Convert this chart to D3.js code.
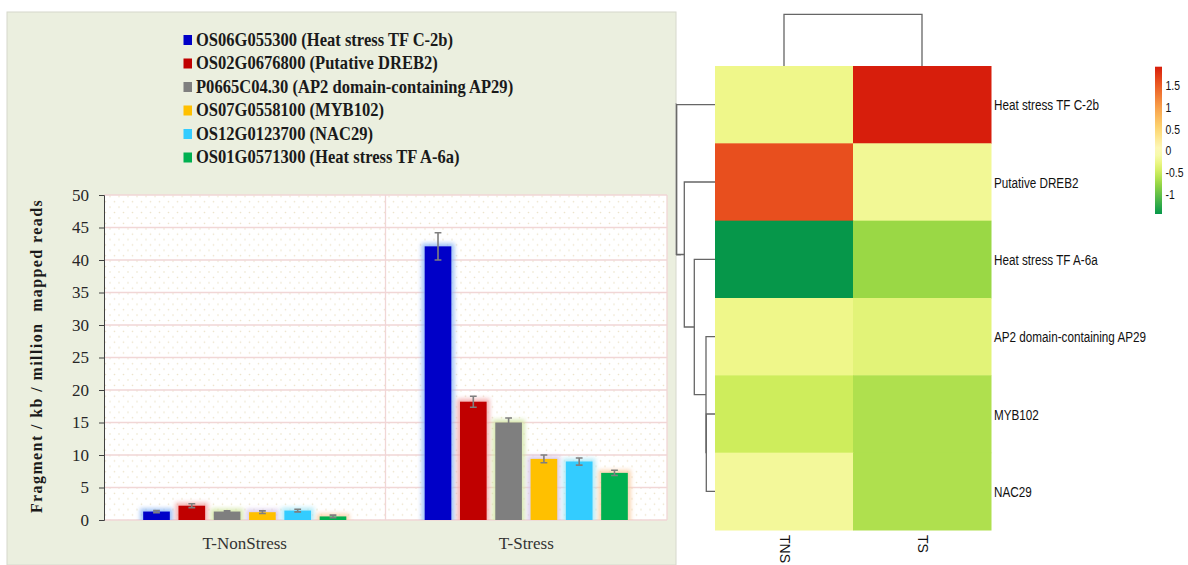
<!DOCTYPE html>
<html>
<head>
<meta charset="utf-8">
<script src="https://cdn.jsdelivr.net/npm/d3@7"></script>
<style>
body { margin: 0; background: #fff; }
</style>
</head>
<body>
<div id="chart"></div>
<script>
// bar chart data
var groups = ["T-NonStress", "T-Stress"];
var seriesNames = ["OS06G055300 (Heat stress TF C-2b)", "OS02G0676800 (Putative DREB2)",
	"P0665C04.30 (AP2 domain-containing AP29)", "OS07G0558100 (MYB102)",
	"OS12G0123700 (NAC29)", "OS01G0571300 (Heat stress TF A-6a)"];
var nonStressVals = [1.3, 2.2, 1.3, 1.2, 1.45, 0.55];
var nonStressErr = [0.17, 0.3, 0.1, 0.2, 0.2, 0.2];
var stressVals = [42.1, 18.2, 15.0, 9.4, 9.0, 7.25];
var stressErr = [2.1, 0.85, 0.7, 0.6, 0.55, 0.4];
var yTicks = [0, 5, 10, 15, 20, 25, 30, 35, 40, 45, 50];

// heatmap data
var genes = ["Heat stress TF C-2b", "Putative DREB2", "Heat stress TF A-6a",
	"AP2 domain-containing AP29", "MYB102", "NAC29"];
var conditions = ["TNS", "TS"];
var heatTNS = [-0.25, 1.6, -1.46, -0.25, -0.5, -0.18];
var heatTS = [1.94, -0.2, -0.75, -0.35, -0.65, -0.65];
var legendTicks = [1.5, 1, 0.5, 0, -0.5, -1];
// row clustering, hclust style: negative = leaf index (1-based), positive = merge step
var rowMerges = [[-5, -6, 0.87], [-4, 1, 0.9], [-3, 2, 2.07], [-2, 3, 3.07], [-1, 4, 3.83]];
var colMergeHeight = 1;

var barColors = ["#0000c8", "#c00000", "#7f7f7f", "#ffc000", "#33ccff", "#00b050"];
var glowColors = ["#8fb8f5", "#f3a9a9", "#d3e6a6", "#d6c6ea", "#a9e8f7", "#f9cfa5"];

var W = 1188, H = 565;
var svg = d3.select("#chart").append("svg").attr("width", W).attr("height", H);
var defs = svg.append("defs");

var pat = defs.append("pattern").attr("id", "dots").attr("patternUnits", "userSpaceOnUse")
	.attr("width", 9).attr("height", 10.8);
pat.append("rect").attr("width", 9).attr("height", 10.8).attr("fill", "#fff");
pat.append("circle").attr("cx", 2).attr("cy", 2).attr("r", 0.8).attr("fill", "#ece2c8");
pat.append("circle").attr("cx", 6.5).attr("cy", 7.4).attr("r", 0.8).attr("fill", "#ece2c8");

defs.append("filter").attr("id", "glow").attr("x", "-50%").attr("y", "-50%")
	.attr("width", "200%").attr("height", "200%")
	.append("feGaussianBlur").attr("stdDeviation", 2.2);

defs.append("clipPath").attr("id", "plotclip").append("rect")
	.attr("x", 104).attr("y", 180).attr("width", 563).attr("height", 340);

// ---------- left panel ----------
svg.append("rect").attr("x", 7).attr("y", 12).attr("width", 669).attr("height", H - 12)
	.attr("fill", "#ebefdf").attr("stroke", "#d6d8cc").attr("stroke-width", 1);
svg.append("path").attr("d", "M676,103V255H681").attr("fill", "none")
	.attr("stroke", "#9a9a9a").attr("stroke-width", 1);

var x0 = d3.scaleBand().domain(groups).range([104, 667]);
var x1 = d3.scaleBand().domain(d3.range(seriesNames.length)).range([0, x0.bandwidth()])
	.paddingInner(0.245).paddingOuter(1.11);
var y = d3.scaleLinear().domain([0, 50]).range([520, 195]);

svg.append("rect").attr("x", 104).attr("y", 195).attr("width", 563).attr("height", 325)
	.attr("fill", "url(#dots)");

svg.append("g").selectAll("line").data(yTicks).enter().append("line")
	.attr("x1", 104).attr("x2", 667)
	.attr("y1", d => y(d)).attr("y2", d => y(d))
	.attr("stroke", "#f1d6d6").attr("stroke-width", 1.3);
svg.append("g").selectAll("line").data(groups).enter().append("line")
	.attr("x1", d => x0(d) + x0.bandwidth()).attr("x2", d => x0(d) + x0.bandwidth())
	.attr("y1", y(50)).attr("y2", y(0))
	.attr("stroke", "#f1d6d6").attr("stroke-width", 1.3);

var barData = [];
groups.forEach(function(g, gi) {
	var vals = gi == 0 ? nonStressVals : stressVals;
	var errs = gi == 0 ? nonStressErr : stressErr;
	vals.forEach(function(v, i) {
		barData.push({group: g, i: i, v: v, e: errs[i]});
	});
});

var bars = svg.append("g").attr("clip-path", "url(#plotclip)");
bars.selectAll(".glow").data(barData).enter().append("rect")
	.attr("x", d => x0(d.group) + x1(d.i) - 3)
	.attr("y", d => y(d.v) - 3)
	.attr("width", x1.bandwidth() + 6)
	.attr("height", d => y(0) - y(d.v) + 6)
	.attr("fill", d => glowColors[d.i])
	.attr("opacity", 0.85)
	.attr("filter", "url(#glow)");
bars.selectAll(".bar").data(barData).enter().append("rect")
	.attr("x", d => x0(d.group) + x1(d.i))
	.attr("y", d => y(d.v))
	.attr("width", x1.bandwidth())
	.attr("height", d => y(0) - y(d.v))
	.attr("fill", d => barColors[d.i]);

var err = svg.append("g").attr("stroke", "#7f7f7f").attr("stroke-width", 1.6).attr("fill", "none");
err.selectAll("path").data(barData).enter().append("path")
	.attr("d", function(d) {
		var cx = x0(d.group) + x1(d.i) + x1.bandwidth() / 2;
		var t = y(d.v + d.e), b = y(d.v - d.e);
		return "M" + (cx - 3.4) + "," + t + "H" + (cx + 3.4) + "M" + cx + "," + t + "V" + b +
			"M" + (cx - 3.4) + "," + b + "H" + (cx + 3.4);
	});

var yAxis = svg.append("g").attr("transform", "translate(104,0)")
	.call(d3.axisLeft(y).tickValues(yTicks).tickSize(5).tickPadding(10));
yAxis.select(".domain").attr("stroke", "#404040");
yAxis.selectAll(".tick line").attr("stroke", "#404040");
yAxis.selectAll(".tick text").attr("font-family", "Liberation Serif, Times New Roman, serif")
	.attr("font-size", 17).attr("fill", "#262626");

svg.append("text").attr("transform", "translate(42,356) rotate(-90)")
	.attr("text-anchor", "middle")
	.attr("font-family", "Liberation Serif, Times New Roman, serif")
	.attr("font-weight", "bold").attr("font-size", 16).attr("letter-spacing", 1.4)
	.attr("fill", "#1a1a1a")
	.style("white-space", "pre")
	.text("Fragment / kb / million  mapped reads");

svg.append("g").selectAll("text").data(groups).enter().append("text")
	.attr("x", d => x0(d) + x0.bandwidth() / 2).attr("y", 549)
	.attr("text-anchor", "middle")
	.attr("font-family", "Liberation Serif, Times New Roman, serif")
	.attr("font-size", 17).attr("fill", "#333")
	.text(d => d);

var leg = svg.append("g").selectAll("g").data(seriesNames).enter().append("g")
	.attr("transform", (d, i) => "translate(183.5," + (40 + i * 23.5) + ")");
leg.append("rect").attr("x", 0).attr("y", -5).attr("width", 8.5).attr("height", 10)
	.attr("fill", (d, i) => barColors[i]);
leg.append("text").attr("transform", "translate(12.5,5.8) scale(0.92,1)")
	.attr("font-family", "Liberation Serif, Times New Roman, serif")
	.attr("font-weight", "bold").attr("font-size", 18).attr("fill", "#1a1a1a")
	.text(d => d);

// ---------- heatmap ----------
var hx = d3.scaleBand().domain(conditions).range([715, 991]);
var hy = d3.scaleBand().domain(genes).range([66, 530]);
var color = d3.scaleLinear()
	.domain([-1.46, -0.75, -0.5, -0.25, 0, 0.5, 1, 1.6, 1.94])
	.range(["#06974a", "#9ad845", "#ceed5c", "#eff78a", "#fdfcc2", "#fdd873", "#f8a04a", "#e84f1e", "#d71e0c"]);

var cells = [];
genes.forEach(function(g, i) {
	cells.push({gene: g, cond: "TNS", v: heatTNS[i]});
	cells.push({gene: g, cond: "TS", v: heatTS[i]});
});
svg.append("g").selectAll("rect").data(cells).enter().append("rect")
	.attr("x", d => hx(d.cond)).attr("y", d => hy(d.gene))
	.attr("width", hx.bandwidth() + 0.5).attr("height", hy.bandwidth() + 0.5)
	.attr("fill", d => color(d.v));

var sansFont = "Liberation Sans, Arial, sans-serif";
svg.append("g").selectAll("text").data(genes).enter().append("text")
	.attr("transform", d => "translate(994," + (hy(d) + hy.bandwidth() / 2 + 5.5) + ") scale(0.78,1)")
	.attr("font-family", sansFont).attr("font-size", 15).attr("fill", "#111")
	.text(d => d);

svg.append("g").selectAll("text").data(conditions).enter().append("text")
	.attr("transform", d => "translate(" + (hx(d) + hx.bandwidth() / 2 - 4.5) + ",535) rotate(90)")
	.attr("font-family", sansFont).attr("font-size", 14).attr("fill", "#111")
	.text(d => d);

// row dendrogram
var rowH = d3.scaleLinear().domain([0, d3.max(rowMerges, d => d[2])]).range([715, 676.7]);
var nodes = [];
function nodeInfo(id) {
	if (id < 0) {
		var g = genes[-id - 1];
		return {pos: hy(g) + hy.bandwidth() / 2, h: 0};
	}
	return nodes[id - 1];
}
var dendro = svg.append("g").attr("fill", "none").attr("stroke", "#666").attr("stroke-width", 1.3);
rowMerges.forEach(function(m) {
	var a = nodeInfo(m[0]), b = nodeInfo(m[1]);
	var xm = rowH(m[2]);
	dendro.append("path").attr("d", "M" + rowH(a.h) + "," + a.pos + "H" + xm + "V" + b.pos + "H" + rowH(b.h));
	nodes.push({pos: (a.pos + b.pos) / 2, h: m[2]});
});

// column dendrogram
var colH = d3.scaleLinear().domain([0, colMergeHeight]).range([66, 14.3]);
var c1 = hx("TNS") + hx.bandwidth() / 2, c2 = hx("TS") + hx.bandwidth() / 2;
dendro.append("path").attr("d", "M" + c1 + "," + colH(0) + "V" + colH(colMergeHeight) +
	"H" + c2 + "V" + colH(0));

// colour key
var ky = d3.scaleLinear().domain([-1.46, 1.94]).range([214, 66.7]);
var grad = defs.append("linearGradient").attr("id", "keygrad")
	.attr("x1", 0).attr("y1", 1).attr("x2", 0).attr("y2", 0);
d3.range(0, 1.0001, 0.05).forEach(function(t) {
	var v = -1.46 + t * (1.94 + 1.46);
	grad.append("stop").attr("offset", t).attr("stop-color", color(v));
});
svg.append("rect").attr("x", 1155).attr("y", ky(1.94)).attr("width", 7)
	.attr("height", ky(-1.46) - ky(1.94)).attr("fill", "url(#keygrad)");
svg.append("g").selectAll("text").data(legendTicks).enter().append("text")
	.attr("transform", d => "translate(1165.5," + (ky(d) + 4.5) + ") scale(0.8,1)")
	.attr("font-family", sansFont).attr("font-size", 13).attr("fill", "#111")
	.text(d => d);
</script>
</body>
</html>
